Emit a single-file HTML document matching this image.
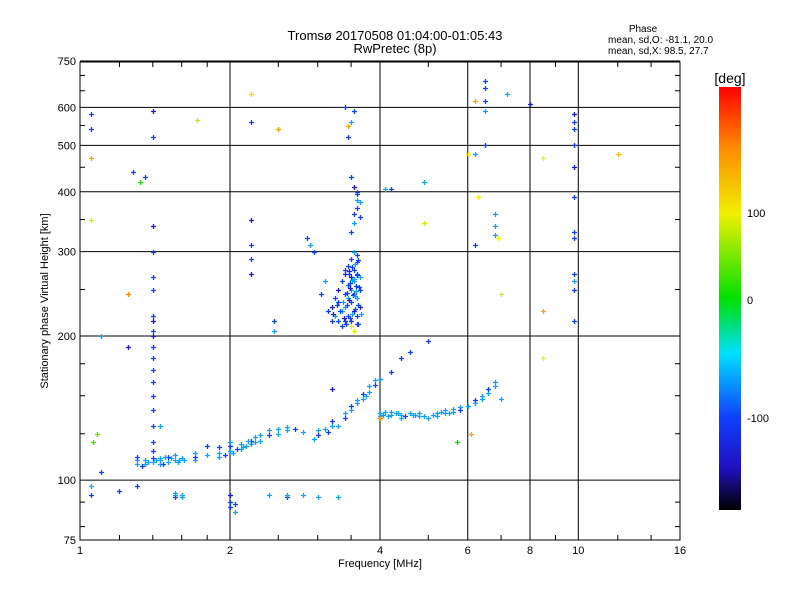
<!DOCTYPE html>
<html><head><meta charset="utf-8"><style>
body{margin:0;background:#fff}
svg{display:block;font-family:"Liberation Sans",sans-serif}
</style></head><body>
<svg id="chart" width="800" height="600" xmlns="http://www.w3.org/2000/svg">
<defs><linearGradient id="cb" x1="0" y1="0" x2="0" y2="1">
<stop offset="0" stop-color="#ff0000"/><stop offset="0.14" stop-color="#ff8800"/><stop offset="0.3" stop-color="#f0f000"/><stop offset="0.5" stop-color="#00e000"/><stop offset="0.63" stop-color="#00e0ff"/><stop offset="0.78" stop-color="#1040ff"/><stop offset="0.9" stop-color="#2010c0"/><stop offset="1" stop-color="#000000"/></linearGradient></defs>
<text x="395" y="40" font-size="13" text-anchor="middle">Tromsø 20170508 01:04:00-01:05:43</text>
<text x="395" y="53" font-size="13" text-anchor="middle">RwPretec (8p)</text>
<text x="643" y="32" font-size="10" text-anchor="middle">Phase</text>
<text x="608" y="43" font-size="10">mean, sd,O: -81.1, 20.0</text>
<text x="608" y="54" font-size="10">mean, sd,X:  98.5, 27.7</text>
<g id="grid"></g>
<g id="marks"></g>
<rect x="80" y="62" width="600" height="478" fill="none" stroke="#000" stroke-width="1"/>
<g id="ticks"></g>
<text x="380" y="567" font-size="11" text-anchor="middle">Frequency [MHz]</text>
<text transform="translate(48,301) rotate(-90)" font-size="11" text-anchor="middle">Stationary phase Virtual Height [km]</text>
<rect x="719" y="87" width="22" height="423" fill="url(#cb)"/>
<text x="730" y="83" font-size="14" text-anchor="middle">[deg]</text>
<text x="747" y="217" font-size="11">100</text>
<text x="747" y="304" font-size="11">0</text>
<text x="747" y="422" font-size="11">-100</text>
</svg>
<script>
const xTicks=[1,2,4,6,8,10,16];
const yTicks=[75,100,200,300,400,500,600,750];
const xMinor=[1.2,1.4,1.6,1.8,2.5,3,3.5,5,7,9,12,14];
const yMinor=[80,90,125,150,175,250,350,450,550,650,700];
const freqs=[1.30,1.30,1.30,1.35,1.35,1.40,1.40,1.45,1.45,1.45,1.50,1.50,1.55,1.55,1.60,1.70,1.70,1.70,1.80,1.80,1.90,1.90,1.90,2.00,2.00,2.00,2.10,2.10,2.20,2.20,2.30,2.30,2.40,2.40,2.50,2.50,2.60,2.60,2.70,2.80,3.00,3.00,3.10,3.20,3.20,3.40,3.40,3.50,3.50,3.60,3.60,3.70,3.70,3.80,3.80,3.90,3.90,4.00,
4.00,4.00,4.20,4.20,4.40,4.40,4.60,4.80,4.80,5.00,5.20,5.20,5.40,5.40,5.60,5.60,5.80,5.80,6.00,6.20,6.20,6.40,6.40,6.60,6.60,6.80,6.80,7.00,4.40,4.60,5.00,4.20,
1.55,1.55,1.55,1.60,1.60,2.00,2.00,2.00,2.05,2.05,2.40,2.60,2.60,2.80,3.00,3.30,1.30,1.20,1.05,1.05,1.10,
1.40,1.40,1.40,1.40,1.40,1.40,1.40,1.40,1.40,1.40,1.40,1.40,1.40,1.40,1.40,1.40,1.40,1.40,1.40,
3.15,3.20,3.20,3.25,3.25,3.30,3.30,3.30,3.35,3.35,3.35,3.40,3.40,3.40,3.40,3.45,3.45,3.45,3.45,3.50,3.50,3.50,3.50,3.50,3.55,3.55,3.55,3.55,3.55,3.60,3.60,3.60,3.60,3.60,3.65,3.65,3.65,3.50,3.55,3.60,3.40,3.10,3.05,2.95,2.90,2.85,
3.50,3.55,3.55,3.60,3.60,3.60,3.65,3.65,3.60,3.55,3.50,3.45,3.50,3.55,3.40,3.45,
2.20,2.20,2.20,2.20,2.20,2.20,2.45,2.45,2.50,6.20,6.20,6.20,6.50,6.50,6.50,6.50,6.50,6.80,6.80,6.80,7.20,8.00,9.80,9.80,9.80,9.80,9.80,9.80,9.80,9.80,9.80,9.80,9.80,9.80,12.0,
1.05,1.05,1.05,1.05,1.10,1.25,1.28,1.32,1.35,1.72,1.25,8.5,8.5,8.5,7.0,6.0,6.3,6.9,4.1,4.9,4.9,3.2,1.08,1.06,3.75,4.0,5.7,6.1,1.45,2.15,2.25,4.2,
3.48,3.52,3.57,3.62,3.47,3.53,3.58,3.63,3.49,3.54,3.59,3.46,3.51,3.56,3.61,3.42,3.38,3.33,3.28,3.22,3.37,3.43,3.58,3.52,3.47,3.62,3.56,3.49,3.44,3.66,
1.37,1.42,1.47,1.52,1.57,1.62,1.33,1.48,1.58,2.03,2.07,2.12,2.17,1.95,2.25,4.05,4.15,4.3,4.5,4.7,4.9,5.1,5.3,5.5,4.1,4.35,4.65,2.95,3.15,3.3];
const heights=[108,110,112,108,110,109,111,108,110,111,109,112,110,113,111,110,112,114,113,118,114,117,112,115,118,120,116,119,119,121,121,124,124,127,125,128,127,129,128,126,124,127,128,130,133,135,138,140,143,145,147,148,151,153,157,158,162,163,
136,138,137,139,137,135,138,136,138,135,136,138,138,140,139,141,142,140,143,145,147,148,150,152,155,157,160,148,180,185,195,168,
93,92,94,92,93,90,93,88,86,89,93,92,93,93,92,92,97,95,93,97,104,
590,520,340,300,265,250,220,215,205,200,190,180,170,160,150,140,130,120,115,
225,230,215,240,220,235,250,215,260,225,210,245,270,230,215,255,240,280,220,265,250,235,290,215,300,275,245,225,260,285,240,295,270,220,265,250,230,210,205,212,275,260,245,300,310,320,
330,345,360,370,385,395,380,355,400,410,430,520,560,590,600,550,
560,640,350,310,290,270,215,205,540,480,310,620,680,660,620,590,500,360,340,325,640,610,580,560,540,500,450,390,330,320,270,260,250,215,480,
580,540,470,350,200,190,440,420,430,565,245,470,225,180,245,480,390,320,405,420,345,155,125,120,150,135,120,125,130,118,120,405,
218,222,228,232,238,243,248,253,258,263,268,273,278,283,288,212,218,226,232,222,236,246,254,262,270,212,242,252,232,222,
109,110,108,111,109,110,107,112,110,114,116,117,121,113,123,137,136,138,136,137,136,137,139,138,139,138,137,122,126,130];
const phases=[-60,-60,-100,-60,-60,-60,-100,-60,-60,-60,-60,-100,-60,-60,-60,-60,-100,-60,-60,-100,-60,-100,-60,-60,-100,-60,-60,-60,-60,-100,-60,-60,-100,-60,-60,-60,-60,-60,-100,-60,-100,-60,-60,-60,-100,-100,-60,-60,-100,-60,-60,-60,-100,-60,-60,-100,-60,-60,
-60,-60,-60,-60,-60,-60,-60,-60,-60,-60,-60,-60,-60,-60,-60,-60,-60,-100,-60,-60,-100,-60,-60,-60,-100,-60,-60,-60,-100,-100,-100,-100,
-60,-100,-60,-60,-60,-100,-130,-100,-60,-100,-60,-100,-60,-60,-60,-60,-100,-100,-100,-60,-100,
-130,-100,-130,-100,-100,-100,-100,-130,-100,-130,-100,-100,-100,-100,-100,-100,-100,-100,-100,
-100,-130,-100,-100,-60,-100,-130,-100,-100,-60,-100,-100,-130,-60,-100,-100,-60,-100,-100,-130,-60,-100,-100,-100,-60,-100,-100,-130,-60,-100,-60,-100,-100,-100,-60,-100,-130,100,90,-100,-100,-60,-100,-100,-60,-100,
-100,-60,-100,-100,-60,-100,-60,-100,-100,-130,-100,-100,-60,-100,-100,130,
-100,110,-130,-100,-100,-130,-100,-60,130,-60,-100,130,-100,-100,-100,-60,-100,-60,-60,-60,-60,-130,-130,-100,-100,-100,-130,-100,-100,-100,-100,-60,-100,-100,120,
-100,-100,130,90,-60,-130,-100,10,-100,80,140,100,130,100,90,100,100,100,-60,-60,90,-130,40,20,-60,140,0,130,-60,-60,-60,-100,
-100,-60,-100,-100,-130,-100,-60,-100,-100,-60,-100,-130,-100,-60,-100,-100,-130,-100,-100,-130,-60,-100,-100,-60,-100,-100,-60,-130,-100,-60,
-60,-60,-100,-60,-60,-60,-100,-60,-60,-60,-100,-60,-60,-100,-60,-60,-60,-60,-100,-60,-60,-60,-60,-60,-60,-60,-60,-60,-100,-60];
const X0=80,PX_OCT=150,Y0=540,PX_DEC=479;
function xs(f){return X0+Math.log2(f)*PX_OCT;}
function ys(h){return Y0-Math.log10(h/75)*PX_DEC;}
const stops=[[-180,[0,0,0]],[-140,[32,16,192]],[-100,[16,64,255]],[-60,[16,160,255]],[-40,[0,224,255]],[0,[0,224,0]],[100,[240,240,0]],[140,[255,136,0]],[180,[255,0,0]]];
function col(v){for(let i=1;i<stops.length;i++){if(v<=stops[i][0]){const a=stops[i-1],b=stops[i],t=(v-a[0])/(b[0]-a[0]);const c=a[1].map((q,k)=>Math.round(q+(b[1][k]-q)*t));return `rgb(${c})`;}}return 'rgb(255,0,0)';}
const NS='http://www.w3.org/2000/svg';
const grid=document.getElementById('grid'),ticks=document.getElementById('ticks'),marks=document.getElementById('marks');
function mk(tag,attrs,parent){const e=document.createElementNS(NS,tag);for(const k in attrs)e.setAttribute(k,attrs[k]);parent.appendChild(e);return e;}
xTicks.forEach(t=>{const x=xs(t);
 const l=mk('line',{x1:x,x2:x,y1:62,y2:540,stroke:'#000','stroke-width':1},grid);
 
 
 const tx=mk('text',{x:x,y:554,'font-size':11,'text-anchor':'middle'},ticks);tx.textContent=t;
 
 
});
yTicks.forEach(t=>{const y=ys(t);
 const l=mk('line',{x1:80,x2:680,y1:y,y2:y,stroke:'#000','stroke-width':1},grid);
 
 
 const tx=mk('text',{x:76,y:y+4,'font-size':11,'text-anchor':'end'},ticks);tx.textContent=t;
 
 
});
xMinor.forEach(t=>{const x=xs(t);
 const l=mk('path',{d:`M${x} 540v-5M${x} 62v5`,stroke:'#000','stroke-width':1},ticks);
 
 
});
yMinor.forEach(t=>{const y=ys(t);
 const l=mk('path',{d:`M80 ${y}h5M680 ${y}h-5`,stroke:'#000','stroke-width':1},ticks);
 
 
});
freqs.forEach((f,i)=>{const x=Math.round(xs(f)),y=Math.round(ys(heights[i]));
 const p=mk('path',{d:`M${x-2} ${y+0.5}h5M${x+0.5} ${y-2}v5`,stroke:col(phases[i]),'stroke-width':1.3,fill:'none'},marks);
 
 
});
</script>
</body></html>
